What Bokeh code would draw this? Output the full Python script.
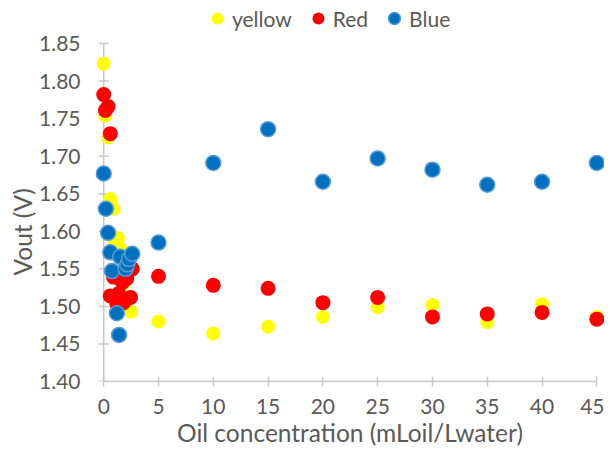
from bokeh.plotting import figure
from bokeh.models import Range1d, Legend, LegendItem, FixedTicker, NumeralTickFormatter, Title
from bokeh.embed import file_html
from bokeh.resources import INLINE

yellow_x = [0, 0.15, 0.4, 0.6, 0.9, 1.3, 1.0, 1.5, 1.2, 1.8, 2.5, 5, 10, 15, 20, 25, 30, 35, 40, 45]
yellow_y = [1.823, 1.754, 1.725, 1.643, 1.630, 1.591, 1.583, 1.577, 1.545, 1.530, 1.493,
            1.480, 1.464, 1.473, 1.486, 1.499, 1.502, 1.479, 1.503, 1.486]

red_x = [0, 0.15, 0.4, 0.6, 0.6, 0.9, 1.2, 1.35, 1.7, 1.8, 2.1, 2.45, 2.6,
         5, 10, 15, 20, 25, 30, 35, 40, 45]
red_y = [1.782, 1.761, 1.766, 1.730, 1.514, 1.539, 1.503, 1.517, 1.532, 1.505, 1.537, 1.512, 1.550,
         1.540, 1.528, 1.524, 1.505, 1.512, 1.486, 1.490, 1.492, 1.483]

blue_x = [0, 0.2, 0.4, 0.6, 0.75, 1.2, 1.4, 1.5, 2.0, 2.15, 2.3, 2.6,
          5, 10, 15, 20, 25, 30, 35, 40, 45]
blue_y = [1.677, 1.630, 1.598, 1.572, 1.547, 1.491, 1.462, 1.566, 1.550, 1.556, 1.563, 1.570,
          1.585, 1.691, 1.736, 1.666, 1.697, 1.682, 1.662, 1.666, 1.691]

x_ticks = [0, 5, 10, 15, 20, 25, 30, 35, 40, 45]
y_ticks = [1.40, 1.45, 1.50, 1.55, 1.60, 1.65, 1.70, 1.75, 1.80, 1.85]

x_title = "Oil concentration (mLoil/Lwater)"
y_title = "Vout (V)"

FONT = "Lato"
TXT = "#595959"
AX = "#c8c8c8"

p = figure(width=604, height=454, output_backend="svg", toolbar_location=None,
           x_range=Range1d(-0.75, 45.7), y_range=Range1d(1.40, 1.9073),
           min_border_left=95, min_border_right=0, min_border_bottom=73, min_border_top=0)
p.outline_line_color = None
p.xgrid.visible = False
p.ygrid.visible = False

# y axis line and cross ticks at x = 0
p.segment(x0=[0], y0=[y_ticks[0]], x1=[0], y1=[y_ticks[-1]], line_color=AX, line_width=1.5)
p.scatter([0] * len(y_ticks), y_ticks, marker="dash", size=10, line_color=AX, line_width=1.5)

ry = p.scatter(yellow_x, yellow_y, size=14, fill_color="#FFFF00", line_color=None)
rr = p.scatter(red_x, red_y, size=15, fill_color="#FF0000", line_color=None)
rb = p.scatter(blue_x, blue_y, size=15, fill_color="#0070C0", line_color="#5B9BD5", line_width=1.5)

for ax in (p.xaxis[0], p.yaxis[0]):
    ax.axis_line_color = AX
    ax.axis_line_width = 1.5
    ax.major_tick_line_color = AX
    ax.major_tick_line_width = 1.5
    ax.major_tick_in = 5
    ax.major_tick_out = 5
    ax.minor_tick_line_color = None
    ax.major_label_text_font = FONT
    ax.major_label_text_color = TXT
    ax.major_label_text_font_size = "21px"
    ax.axis_label_text_font = FONT
    ax.axis_label_text_color = TXT
    ax.axis_label_text_font_size = "24.5px"
    ax.axis_label_text_font_style = "normal"

p.yaxis.axis_line_color = None
p.yaxis.major_tick_line_color = None
p.yaxis.major_tick_out = 0
p.yaxis.major_tick_in = 0
p.xaxis.ticker = FixedTicker(ticks=x_ticks)
p.yaxis.ticker = FixedTicker(ticks=y_ticks)
p.yaxis.formatter = NumeralTickFormatter(format="0.00")
p.xaxis.bounds = (0, 45)
p.xaxis.major_label_standoff = 12
p.yaxis.major_label_standoff = 15
p.xaxis.axis_label = x_title
p.xaxis.axis_label_standoff = 1

ytitle = Title(text=y_title, align="left", vertical_align="bottom", offset=106, standoff=0,
               text_font=FONT, text_font_size="24.5px", text_color=TXT, text_font_style="normal")
p.add_layout(ytitle, "left")

legend = Legend(items=[LegendItem(label="yellow", renderers=[ry]),
                       LegendItem(label="Red", renderers=[rr]),
                       LegendItem(label="Blue", renderers=[rb])],
                orientation="horizontal", location=(107, 348),
                label_text_font=FONT, label_text_font_size="21px", label_text_color=TXT,
                border_line_color=None, background_fill_alpha=0,
                glyph_width=30, glyph_height=30, label_standoff=0, spacing=11,
                padding=0, margin=0)
p.add_layout(legend)

open("out.html", "w").write(file_html(p, INLINE))
